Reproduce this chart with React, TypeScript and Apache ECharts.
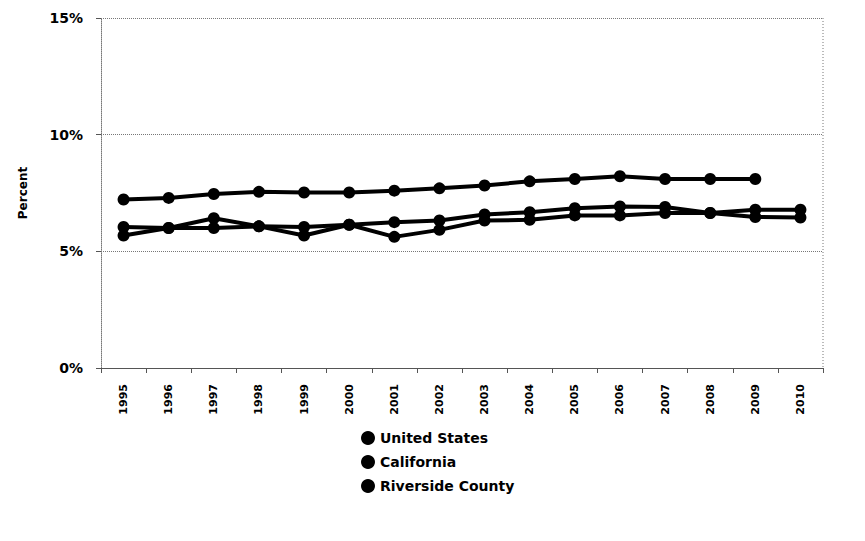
import React, { useEffect, useRef } from "react";
import * as echarts from "echarts";

const years = ["1995", "1996", "1997", "1998", "1999", "2000", "2001", "2002", "2003", "2004", "2005", "2006", "2007", "2008", "2009", "2010"];
const unitedStates = [6.04, 6.0, 6.42, 6.07, 6.04, 6.14, 6.25, 6.32, 6.58, 6.68, 6.85, 6.92, 6.9, 6.64, 6.78, 6.78];
const california = [5.68, 6.0, 6.0, 6.07, 5.68, 6.14, 5.62, 5.92, 6.32, 6.35, 6.54, 6.54, 6.64, 6.64, 6.47, 6.45];
const riversideCounty = [7.22, 7.29, 7.46, 7.55, 7.52, 7.52, 7.6, 7.7, 7.82, 8.0, 8.1, 8.22, 8.1, 8.1, 8.1, null];
const seriesNames = ["United States", "California", "Riverside County"];

const FONT = "DejaVu Sans";

export default function App() {
  const ref = useRef<HTMLDivElement>(null);

  useEffect(() => {
    document.body.style.margin = "0";
    if (!ref.current) return;
    const chart = echarts.init(ref.current, undefined, { renderer: "svg" });
    const line = (name: string, data: (number | null)[]) => ({
      name,
      type: "line",
      data,
      symbol: "circle",
      symbolSize: 12,
      connectNulls: false,
      lineStyle: { color: "#000", width: 4 },
      itemStyle: { color: "#000" },
    });
    chart.setOption({
      animation: false,
      backgroundColor: "#fff",
      textStyle: { fontFamily: FONT },
      grid: { left: 101, right: 42, top: 18, bottom: 173 },
      legend: {
        orient: "vertical",
        left: 361,
        top: 431,
        padding: 0,
        icon: "circle",
        itemWidth: 14,
        itemHeight: 14,
        itemGap: 10,
        data: seriesNames,
        textStyle: { fontFamily: FONT, fontWeight: "bold", fontSize: 14, color: "#000" },
      },
      xAxis: {
        type: "category",
        data: years,
        boundaryGap: true,
        axisLine: { lineStyle: { color: "#555", width: 1 } },
        axisTick: { show: true, length: 5, lineStyle: { color: "#555" } },
        axisLabel: {
          rotate: 90,
          margin: 16,
          fontFamily: FONT,
          fontWeight: "bold",
          fontSize: 11,
          color: "#000",
          interval: 0,
        },
        splitLine: { show: false },
      },
      yAxis: {
        type: "value",
        min: 0,
        max: 15,
        interval: 5,
        name: "Percent",
        nameLocation: "middle",
        nameGap: 72,
        nameTextStyle: { fontFamily: FONT, fontWeight: "bold", fontSize: 12, color: "#000" },
        axisLine: { show: true, lineStyle: { color: "#777", type: "dotted", width: 1 } },
        axisTick: { show: true, length: 5, lineStyle: { color: "#555" } },
        axisLabel: {
          formatter: "{value}%",
          margin: 18,
          fontFamily: FONT,
          fontWeight: "bold",
          fontSize: 14,
          color: "#000",
        },
        splitLine: { show: true, lineStyle: { color: "#777", type: "dotted", width: 1 } },
      },
      graphic: [
        {
          type: "line",
          shape: { x1: 823, y1: 18, x2: 823, y2: 368 },
          style: { stroke: "#777", lineWidth: 1, lineDash: [1, 2] },
        },
      ],
      series: [
        line(seriesNames[0], unitedStates),
        line(seriesNames[1], california),
        line(seriesNames[2], riversideCounty),
      ],
    });
    return () => chart.dispose();
  }, []);

  return <div ref={ref} style={{ width: 865, height: 541 }} />;
}
